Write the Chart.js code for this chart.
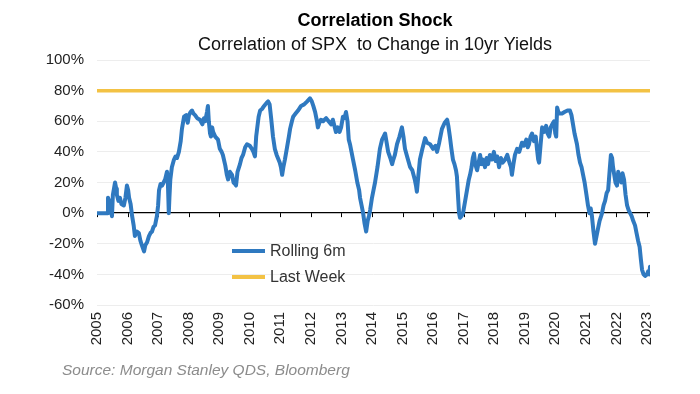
<!DOCTYPE html>
<html>
<head>
<meta charset="utf-8">
<script src="https://cdn.jsdelivr.net/npm/chart.js@4.4.1/dist/chart.umd.min.js"></script>
<style>
  body { margin: 0; background: #fff; font-family: "Liberation Sans", Arial, sans-serif; }
  #wrap { position: relative; width: 700px; height: 394px; }
  .ttl { position: absolute; left: 0; width: 750px; text-align: center; color: #111; line-height: 22px; }
  #title { top: 9px; font-size: 18px; font-weight: bold; color: #000; }
  #subtitle { top: 33px; font-size: 18px; }
  #legend { position: absolute; left: 232px; top: 238px; font-size: 16px; color: #333; }
  .item { display: flex; align-items: center; height: 26px; }
  .swatch { width: 33px; height: 0; border-top: 4px solid; margin-right: 5px; }
  #source { position: absolute; left: 62px; top: 360px; font-size: 15.5px; line-height: 20px; font-style: italic; color: #8c8c8c; }
</style>
</head>
<body>
<div id="wrap">
  <canvas id="corrChart" width="700" height="394"></canvas>
  <div class="ttl" id="title">Correlation Shock</div>
  <div class="ttl" id="subtitle">Correlation of SPX&nbsp; to Change in 10yr Yields</div>
  <div id="legend"></div>
  <div id="source">Source: Morgan Stanley QDS, Bloomberg</div>
</div>
<script>
// Data (decimal years, correlation in %)
const dates = [
  2005.00, 2005.30, 2005.33, 2005.36, 2005.40, 2005.45, 2005.49, 2005.52, 2005.59, 2005.63,
  2005.65, 2005.70, 2005.75, 2005.80, 2005.88, 2005.93, 2005.98, 2006.02, 2006.05, 2006.10,
  2006.15, 2006.20, 2006.24, 2006.30, 2006.37, 2006.42, 2006.47, 2006.54, 2006.58, 2006.64,
  2006.70, 2006.75, 2006.80, 2006.85, 2006.90, 2006.96, 2007.00, 2007.03, 2007.08, 2007.13,
  2007.18, 2007.23, 2007.29, 2007.32, 2007.35, 2007.37, 2007.40, 2007.45, 2007.52, 2007.57,
  2007.62, 2007.68, 2007.74, 2007.78, 2007.85, 2007.92, 2007.97, 2008.01, 2008.06, 2008.11,
  2008.16, 2008.21, 2008.28, 2008.37, 2008.45, 2008.50, 2008.54, 2008.60, 2008.63, 2008.66,
  2008.70, 2008.73, 2008.77, 2008.80, 2008.87, 2008.96, 2009.02, 2009.08, 2009.12, 2009.20,
  2009.25, 2009.29, 2009.35, 2009.42, 2009.47, 2009.52, 2009.55, 2009.60, 2009.68, 2009.73,
  2009.78, 2009.85, 2009.91, 2010.00, 2010.07, 2010.12, 2010.17, 2010.21, 2010.24, 2010.29,
  2010.34, 2010.40, 2010.47, 2010.55, 2010.60, 2010.65, 2010.70, 2010.76, 2010.82, 2010.88,
  2010.92, 2010.98, 2011.02, 2011.06, 2011.10, 2011.15, 2011.22, 2011.28, 2011.32, 2011.38,
  2011.42, 2011.50, 2011.58, 2011.68, 2011.78, 2011.88, 2011.97, 2012.03, 2012.08, 2012.14,
  2012.20, 2012.23, 2012.28, 2012.33, 2012.40, 2012.50, 2012.58, 2012.66, 2012.72, 2012.82,
  2012.88, 2012.94, 2012.99, 2013.05, 2013.10, 2013.15, 2013.20, 2013.24, 2013.28, 2013.33,
  2013.38, 2013.45, 2013.52, 2013.58, 2013.61, 2013.66, 2013.71, 2013.76, 2013.81, 2013.86,
  2013.90, 2013.94, 2014.00, 2014.05, 2014.10, 2014.18, 2014.26, 2014.33, 2014.38, 2014.43,
  2014.48, 2014.53, 2014.60, 2014.66, 2014.70, 2014.75, 2014.82, 2014.90, 2014.98, 2015.03,
  2015.08, 2015.15, 2015.25, 2015.32, 2015.40, 2015.44, 2015.47, 2015.52, 2015.57, 2015.65,
  2015.74, 2015.80, 2015.90, 2016.00, 2016.08, 2016.13, 2016.20, 2016.29, 2016.38, 2016.46,
  2016.50, 2016.55, 2016.60, 2016.65, 2016.70, 2016.75, 2016.78, 2016.82, 2016.85, 2016.88,
  2016.93, 2016.98, 2017.05, 2017.11, 2017.17, 2017.21, 2017.26, 2017.30, 2017.34, 2017.38,
  2017.44, 2017.49, 2017.54, 2017.58, 2017.63, 2017.70, 2017.75, 2017.80, 2017.86, 2017.93,
  2017.99, 2018.05, 2018.10, 2018.16, 2018.22, 2018.28, 2018.36, 2018.43, 2018.50, 2018.55,
  2018.58, 2018.63, 2018.68, 2018.75, 2018.82, 2018.91, 2018.97, 2019.05, 2019.10, 2019.14,
  2019.19, 2019.24, 2019.30, 2019.36, 2019.40, 2019.44, 2019.47, 2019.52, 2019.57, 2019.63,
  2019.70, 2019.75, 2019.80, 2019.85, 2019.90, 2019.96, 2020.00, 2020.03, 2020.06, 2020.10,
  2020.15, 2020.22, 2020.30, 2020.40, 2020.48, 2020.53, 2020.58, 2020.63, 2020.71, 2020.76,
  2020.81, 2020.86, 2020.91, 2020.96, 2021.02, 2021.07, 2021.12, 2021.16, 2021.20, 2021.25,
  2021.30, 2021.35, 2021.40, 2021.45, 2021.50, 2021.53, 2021.58, 2021.63, 2021.68, 2021.73,
  2021.78, 2021.82, 2021.86, 2021.89, 2021.93, 2021.97, 2022.02, 2022.06, 2022.10, 2022.12,
  2022.16, 2022.20, 2022.25, 2022.30, 2022.35, 2022.40, 2022.45, 2022.50, 2022.55, 2022.61,
  2022.66, 2022.71, 2022.76, 2022.80, 2022.84, 2022.89, 2022.94, 2023.00, 2023.04, 2023.08,
  2023.10
];

const rolling6m = [
  0, 0, 0, 10, 8, 3, -2, 12, 20, 16,
  12, 8, 10, 6, 5, 10, 18, 15, 10, 6,
  -2, -8, -15, -12, -13, -18, -21, -25, -21, -19,
  -15, -13, -12, -9, -8, -2, 5, 15, 19, 18,
  20, 22, 27, 20, 0, 10, 22, 30, 35, 37,
  36, 40, 47, 55, 63, 64, 59, 64, 66, 67,
  65, 64, 62, 61, 58, 62, 60, 66, 70, 60,
  52, 50, 56, 53, 50, 48, 42, 40, 38, 31,
  25, 22, 27, 25, 20, 19, 18, 27, 32, 36,
  38, 43, 45, 44, 42, 40, 37, 50, 55, 63,
  67, 68, 70, 72, 73, 71, 62, 50, 42, 38,
  36, 33, 30, 25, 30, 35, 43, 50, 55, 60,
  63, 65, 67, 70, 71, 73, 75, 73, 70, 66,
  60, 56, 59, 61, 60, 62, 60, 58, 61, 53,
  56, 53, 56, 63, 62, 66, 60, 48, 45, 40,
  35, 28, 20, 15, 10, 5, 0, -7, -12, -5,
  -2, 2, 10, 15, 20, 30, 42, 48, 50, 52,
  46, 40, 36, 32, 35, 38, 45, 50, 56, 50,
  42, 37, 30, 28, 22, 18, 14, 25, 35, 42,
  49, 46, 45, 42, 44, 40, 46, 55, 59, 61,
  57, 50, 42, 35, 32, 28, 24, 10, 0, -3,
  -2, 0, 8, 15, 22, 25, 30, 36, 39, 32,
  28, 33, 38, 32, 35, 30, 36, 32, 38, 35,
  40, 34, 37, 30, 36, 33, 35, 38, 33, 30,
  25, 32, 38, 42, 40, 46, 44, 48, 43, 45,
  50, 52, 47, 50, 42, 35, 33, 45, 56, 53,
  57, 52, 50, 56, 58, 60, 52, 50, 69, 66,
  65, 65, 66, 67, 67, 64, 58, 52, 45, 38,
  33, 30, 25, 20, 12, 5, 0, 3, -2, -12,
  -20, -15, -10, -5, -2, 0, 5, 8, 13, 15,
  28, 38, 36, 30, 25, 20, 18, 27, 23, 25,
  20, 26, 22, 12, 5, 2, 0, -2, -5, -8,
  -13, -18, -22, -30, -37, -40, -41, -40, -38, -40,
  -35
];

const lastWeekDates = [2005.0, 2023.1];
const lastWeek = [80, 80];

const yTicks = [-60, -40, -20, 0, 20, 40, 60, 80, 100];
const years = [2005, 2006, 2007, 2008, 2009, 2010, 2011, 2012, 2013, 2014,
  2015, 2016, 2017, 2018, 2019, 2020, 2021, 2022, 2023];

const seriesNames = ['Rolling 6m', 'Last Week'];
const seriesColors = ['#2f79c0', '#f3c244'];

// small tick marks hanging off the zero line
const zeroTicks = {
  id: 'zeroTicks',
  beforeDatasetsDraw(chart) {
    const { ctx, scales: { x, y } } = chart;
    const y0 = y.getPixelForValue(0);
    ctx.save();
    ctx.strokeStyle = '#000';
    ctx.lineWidth = 1;
    years.forEach(yr => {
      const px = Math.round(x.getPixelForValue(yr)) + 0.5;
      ctx.beginPath();
      ctx.moveTo(px, y0);
      ctx.lineTo(px, y0 + 4);
      ctx.stroke();
    });
    ctx.restore();
  }
};

const ctx = document.getElementById('corrChart').getContext('2d');
const chart = new Chart(ctx, {
  type: 'line',
  data: {
    datasets: [
      {
        label: seriesNames[0],
        data: dates.map((d, i) => ({ x: d, y: rolling6m[i] })),
        borderColor: seriesColors[0],
        borderWidth: 4,
        borderJoinStyle: 'round',
        borderCapStyle: 'round',
        pointRadius: 0,
        tension: 0
      },
      {
        label: seriesNames[1],
        data: lastWeekDates.map((d, i) => ({ x: d, y: lastWeek[i] })),
        borderColor: seriesColors[1],
        borderWidth: 3.5,
        pointRadius: 0
      }
    ]
  },
  options: {
    responsive: false,
    animation: false,
    layout: { padding: { left: 0, right: 50, top: 60, bottom: 0 } },
    plugins: {
      legend: { display: false },
      tooltip: { enabled: false }
    },
    scales: {
      x: {
        type: 'linear',
        min: 2005,
        max: 2023.1,
        afterBuildTicks: axis => { axis.ticks = years.map(v => ({ value: v })); },
        afterFit: axis => { axis.height = 89; },
        grid: { display: false, drawTicks: false },
        border: { display: false },
        ticks: {
          minRotation: 90,
          maxRotation: 90,
          padding: 7,
          color: '#222',
          font: { family: 'Liberation Sans', size: 15 },
          callback: v => String(v)
        }
      },
      y: {
        min: -60,
        max: 100,
        afterBuildTicks: axis => { axis.ticks = yTicks.map(v => ({ value: v })); },
        afterFit: axis => { axis.width = 97; },
        border: { display: false },
        grid: {
          drawTicks: false,
          color: c => c.tick && c.tick.value === 0 ? '#000' : '#ededed',
          lineWidth: c => c.tick && c.tick.value === 0 ? 1.3 : 1
        },
        ticks: {
          padding: 13,
          color: '#222',
          font: { family: 'Liberation Sans', size: 15 },
          callback: v => v + '%'
        }
      }
    }
  },
  plugins: [zeroTicks]
});

// HTML legend built from the datasets
const legendBox = document.getElementById('legend');
chart.data.datasets.forEach(ds => {
  const item = document.createElement('div');
  item.className = 'item';
  const sw = document.createElement('span');
  sw.className = 'swatch';
  sw.style.borderColor = ds.borderColor;
  const label = document.createElement('span');
  label.textContent = ds.label;
  item.appendChild(sw);
  item.appendChild(label);
  legendBox.appendChild(item);
});
</script>
</body>
</html>
